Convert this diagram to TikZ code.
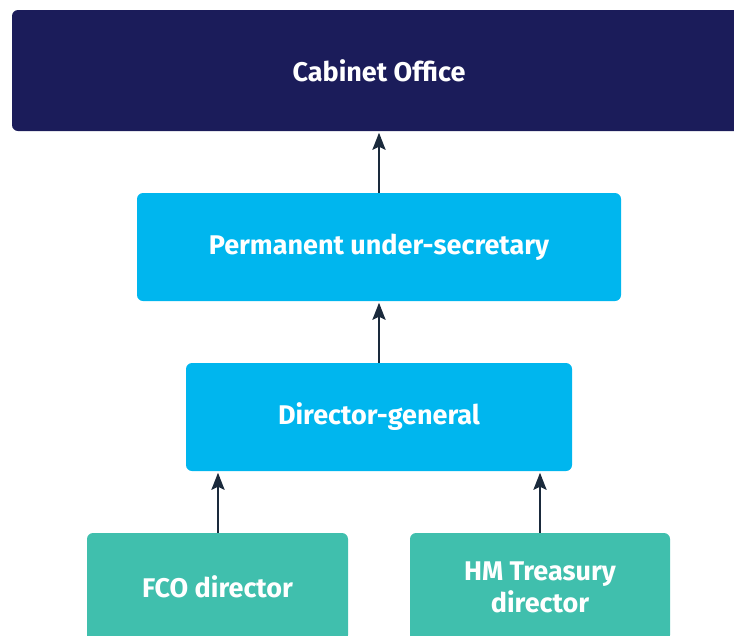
\documentclass[tikz,border=0pt]{standalone}
\usepackage{fontspec}
\setmainfont{Fira Sans}
\usetikzlibrary{arrows.meta}
\definecolor{navy}{HTML}{1B1C5A}
\definecolor{cyanb}{HTML}{00B6EE}
\definecolor{tealb}{HTML}{40BFAD}
\definecolor{arrowc}{HTML}{1A2A3C}
\begin{document}
\begin{tikzpicture}[x=1pt,y=-1pt,
  box/.style={rounded corners=6pt, inner sep=0pt, text=white, align=center,
    font=\fontsize{27}{32}\selectfont\bfseries, draw=none},
  conn/.style={-{Stealth[length=17pt,width=13pt,inset=3pt]}, line width=2.6pt, draw=arrowc, shorten >=1.5pt}]
\useasboundingbox (0,0) rectangle (734,635);
\node[box, fill=navy, minimum width=734pt, minimum height=121pt] (co) at (379,70.5) {Cabinet Office};
\node[box, fill=cyanb, minimum width=484pt, minimum height=108pt] (pus) at (379,247) {Permanent under-secretary};
\node[box, fill=cyanb, minimum width=386pt, minimum height=108pt] (dg) at (379,417) {Director-general};
\node[box, fill=tealb, minimum width=261pt, minimum height=108pt] (fco) at (217.5,587) {FCO director};
\node[box, fill=tealb, minimum width=260pt, minimum height=108pt] (hmt) at (540,587) {HM Treasury\\director};
\draw[conn] (pus.north) -- (co.south);
\draw[conn] (dg.north) -- (pus.south);
\draw[conn] (fco.north -| 218,0) -- (dg.south -| 218,0);
\draw[conn] (hmt.north) -- (dg.south -| hmt.north);
\end{tikzpicture}
\end{document}
